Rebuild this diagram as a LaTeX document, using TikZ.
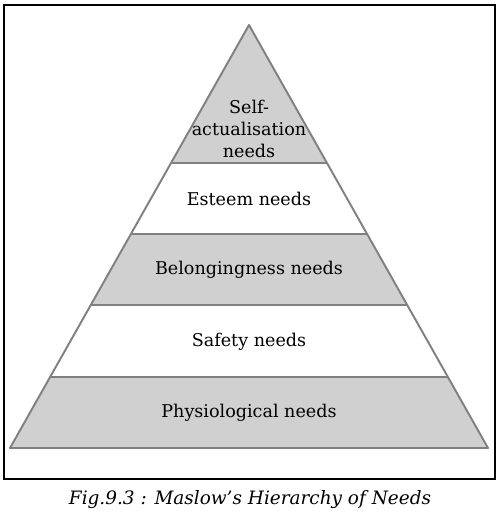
\documentclass[tikz,border=0pt]{standalone}
\usepackage{fontspec}
\setmainfont{DejaVu Serif}
\usepackage{tikz}
\usetikzlibrary{calc}
\definecolor{needGray}{RGB}{208,208,208}
\definecolor{edgeGray}{RGB}{128,128,128}

\begin{document}
\begin{tikzpicture}[x=0.02cm,y=-0.02cm,
    layerline/.style={draw=edgeGray,line width=1.1pt,line join=round},
    needtext/.style={font=\fontsize{10}{12.4}\selectfont, align=center}]
  \useasboundingbox (0,0) rectangle (501,513);
  % Frame
  \draw[line width=1.2pt] (4,5) rectangle (495,479);
  % Pyramid corners and layer boundaries
  \coordinate (apex) at (249,25);
  \coordinate (baseL) at (10,448);
  \coordinate (baseR) at (488,448);
  \foreach \t [count=\i] in {0.326,0.494,0.662,0.832}{
    \coordinate (l\i) at ($(apex)!\t!(baseL)$);
    \coordinate (r\i) at ($(apex)!\t!(baseR)$);
  }
  % Grey layers
  \fill[needGray] (apex) -- (r1) -- (l1) -- cycle;
  \fill[needGray] (l2) -- (r2) -- (r3) -- (l3) -- cycle;
  \fill[needGray] (l4) -- (r4) -- (baseR) -- (baseL) -- cycle;
  % Outline
  \draw[layerline] (apex) -- (baseR) -- (baseL) -- cycle;
  \foreach \i in {1,...,4}
    \draw[layerline] (l\i) -- (r\i);
  % Labels
  \node[needtext] (selfact) at (249,129) {Self-\\actualisation\\needs};
  \node[needtext] (esteem) at (249,199) {Esteem needs};
  \node[needtext] (belong) at (249,270) {Belongingness needs};
  \node[needtext] (safety) at (249,342) {Safety needs};
  \node[needtext] (physio) at (249,413) {Physiological needs};
  \node[font=\fontsize{10.5}{12}\selectfont\itshape] (caption) at (250,500)
    {Fig.9.3 : Maslow’s Hierarchy of Needs};
\end{tikzpicture}
\end{document}
